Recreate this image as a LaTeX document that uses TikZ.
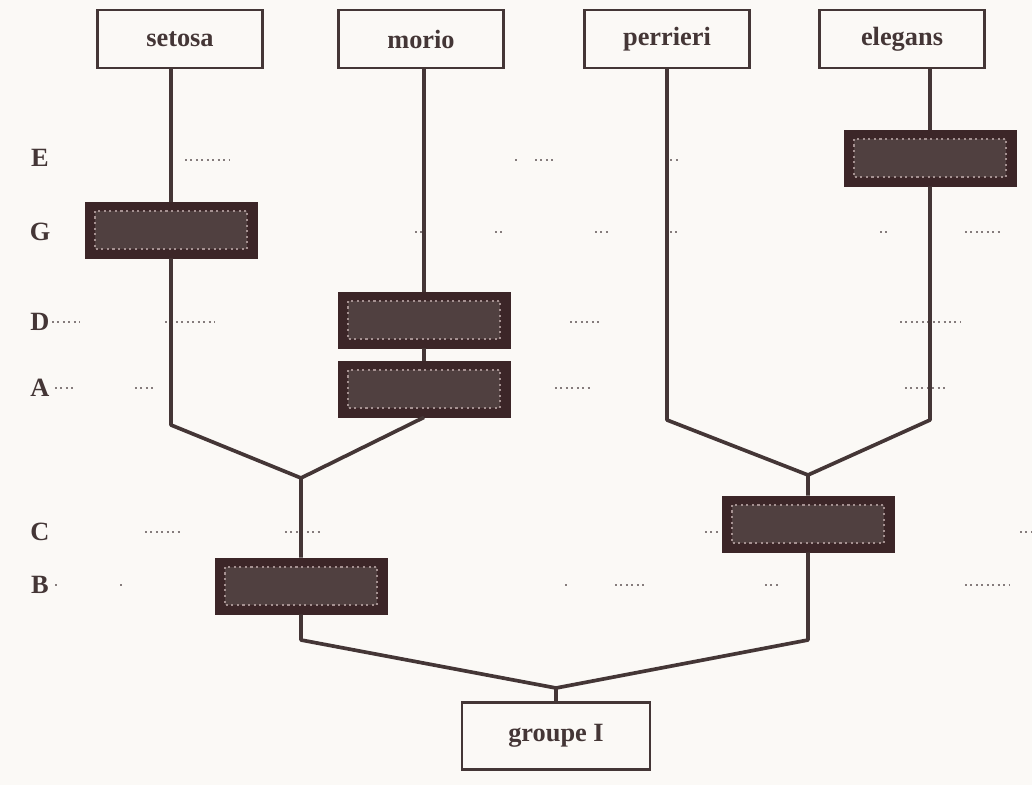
\documentclass[tikz,border=0pt]{standalone}
\usepackage{fontspec}
\setmainfont{Liberation Serif}
\begin{document}
\begin{tikzpicture}[x=0.02cm,y=-0.02cm,
font=\fontsize{15}{18}\selectfont\bfseries,
espece/.style={draw=trait,line width=1.2pt,fill=fond,text=trait,minimum width=3.3cm,minimum height=1.16cm,inner sep=0pt},
caractere/.style={fill=brun,draw=brun,minimum width=3.44cm,minimum height=1.12cm,inner sep=0pt,
  path picture={\draw[fill=brunclair,draw=bord,dotted,line width=1.2pt]
  ([shift={(5.5pt,-5pt)}]path picture bounding box.north west) rectangle
  ([shift={(-5.5pt,5pt)}]path picture bounding box.south east);}},
lettre/.style={text=trait},
branche/.style={draw=trait,line width=2.1pt,line join=round},
pointille/.style={draw=trait!65,dotted,line width=1.1pt}]
\definecolor{trait}{RGB}{68,54,54}
\definecolor{brun}{RGB}{60,38,40}
\definecolor{brunclair}{RGB}{80,64,64}
\definecolor{bord}{RGB}{165,145,145}
\definecolor{fond}{RGB}{251,249,246}
\fill[fond] (0,0) rectangle (1032,785);
\useasboundingbox (0,0) rectangle (1032,785);
% traces en pointilles
\foreach \ya/\xa/\xb in {160/185/230,160/515/520,160/535/555,160/665/680,
  232/415/425,232/495/505,232/595/610,232/670/680,232/880/890,232/965/1000,
  322/52/80,322/165/215,322/570/600,322/900/960,
  388/55/75,388/135/155,388/555/590,388/905/945,
  532/145/180,532/285/320,532/705/720,532/1020/1032,
  585/55/60,585/120/122,585/565/570,585/615/645,585/765/780,585/965/1010}
  \draw[pointille] (\xa,\ya) -- (\xb,\ya);
% especes
\node[espece] (setosa) at (180,39) {setosa};
\node[espece] (morio) at (421,39) {morio};
\node[espece] (perrieri) at (667,39) {perrieri};
\node[espece] (elegans) at (902,39) {elegans};
\node[espece,minimum width=3.76cm,minimum height=1.34cm] (groupe) at (556,736) {groupe I};
% caracteres
\node[caractere] (boxE) at (930,158) {};
\node[caractere] (boxG) at (171,230) {};
\node[caractere] (boxD) at (424,320) {};
\node[caractere] (boxA) at (424,389) {};
\node[caractere] (boxC) at (808,524) {};
\node[caractere] (boxB) at (301,586) {};
% lettres
\node[lettre] (lblE) at (40,158) {E};
\node[lettre] (lblG) at (40,232) {G};
\node[lettre] (lblD) at (40,322) {D};
\node[lettre] (lblA) at (40,388) {A};
\node[lettre] (lblC) at (40,532) {C};
\node[lettre] (lblB) at (40,585) {B};
% points de l'arbre
\coordinate (cS) at (171,425);
\coordinate (cP) at (667,420);
\coordinate (cE) at (930,420);
\coordinate (jSM) at (301,478);
\coordinate (jPE) at (808,475);
\coordinate (cB) at (301,640);
\coordinate (cC) at (808,640);
\coordinate (racine) at (556,688);
% branches
\draw[branche] (setosa.south -| boxG) -- (boxG.north);
\draw[branche] (boxG.south) -- (cS) -- (jSM);
\draw[branche] (morio.south -| boxD) -- (boxD.north);
\draw[branche] (boxD.south) -- (boxA.north);
\draw[branche] (boxA.south) -- (jSM) -- (boxB.north);
\draw[branche] (boxB.south) -- (cB) -- (racine) -- (groupe.north);
\draw[branche] (perrieri.south) -- (cP) -- (jPE);
\draw[branche] (elegans.south -| boxE) -- (boxE.north);
\draw[branche] (boxE.south) -- (cE) -- (jPE) -- (boxC.north);
\draw[branche] (boxC.south) -- (cC) -- (racine);
\end{tikzpicture}
\end{document}
